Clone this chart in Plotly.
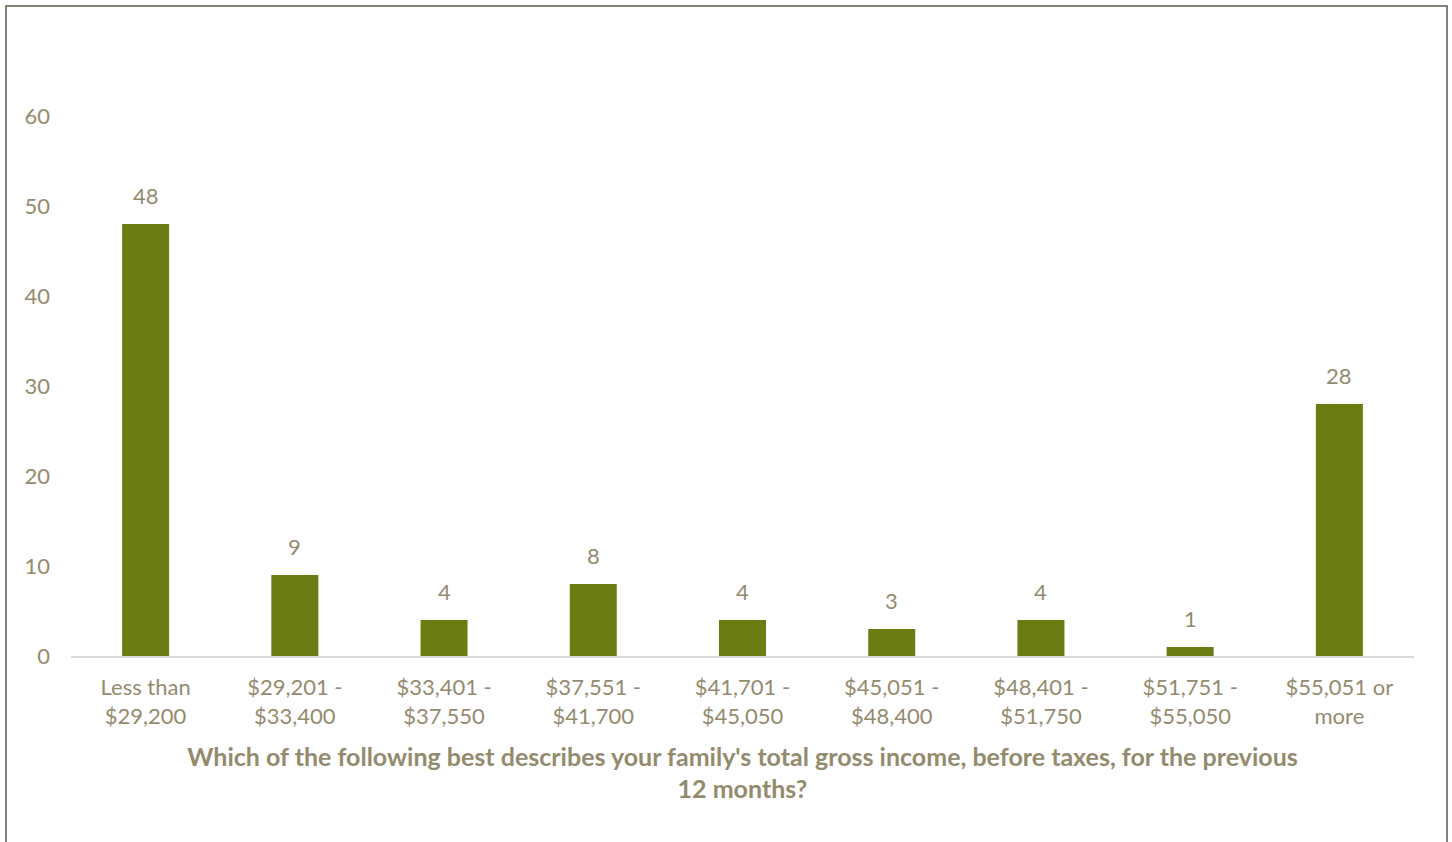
import plotly.graph_objects as go

categories = ["Less than<br>$29,200", "$29,201 -<br>$33,400", "$33,401 -<br>$37,550",
              "$37,551 -<br>$41,700", "$41,701 -<br>$45,050", "$45,051 -<br>$48,400",
              "$48,401 -<br>$51,750", "$51,751 -<br>$55,050", "$55,051 or<br>more"]
values = [48, 9, 4, 8, 4, 3, 4, 1, 28]
y_ticks = [0, 10, 20, 30, 40, 50, 60]
x_title = "Which of the following best describes your family's total gross income, before taxes, for the previous<br>12 months?"

TEXT = "#938B6E"
BAR = "#6B7D12"
FONT = "Lato, 'Open Sans', sans-serif"

W, H = 1452, 842
ML, MR, MT, MB = 71, 38, 116, 186

fig = go.Figure(go.Bar(
    x=categories, y=values, marker=dict(color=BAR, line=dict(width=0)),
    hoverinfo="x+y",
))

for c, v in zip(categories, values):
    fig.add_annotation(x=c, y=v, text=str(v), showarrow=False, yanchor="middle",
                       yshift=29, font=dict(color=TEXT, size=22, family=FONT))

pw = W - ML - MR
ph = H - MT - MB
def px2x(p): return (p - ML) / pw
def py2y(p): return (H - MB - p) / ph

fig.update_layout(
    width=W, height=H,
    margin=dict(l=ML, r=MR, t=MT, b=MB),
    paper_bgcolor="white", plot_bgcolor="white",
    bargap=0.685, showlegend=False,
    font=dict(family=FONT, color=TEXT, size=22),
    xaxis=dict(showgrid=False, showline=True, linecolor="#D9D9D9", linewidth=2,
               ticks="", tickfont=dict(size=22, color=TEXT), ticklabelstandoff=11,
               title=dict(text=x_title, font=dict(size=25, color=TEXT, family=FONT, weight="bold"), standoff=20)),
    yaxis=dict(range=[0, 60], tickvals=y_ticks, showgrid=False, zeroline=False, showline=False,
               ticks="", tickfont=dict(size=22, color=TEXT), ticklabelstandoff=20),
    shapes=[dict(type="rect", xref="paper", yref="paper",
                 x0=px2x(6), x1=px2x(1447), y0=py2y(880), y1=py2y(6),
                 line=dict(color="#5A5A4A", width=1.5), fillcolor="rgba(0,0,0,0)", layer="below")],
)

fig.write_html("out.html", config={"displayModeBar": False},
               post_script="document.body.style.margin='0px';")
